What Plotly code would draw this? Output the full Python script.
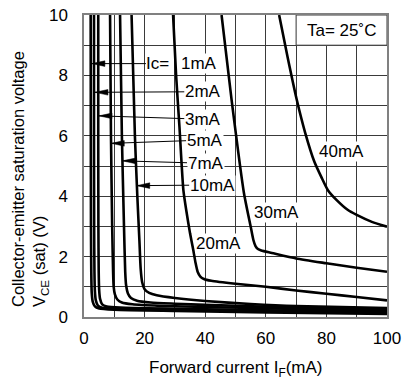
import plotly.graph_objects as go

# ---------------- data ----------------
ic_names = ["1mA", "2mA", "3mA", "5mA", "7mA", "10mA", "20mA", "30mA", "40mA"]

if_1mA = [2.2, 2.25, 2.3, 2.4, 2.55, 2.9, 3.6, 5.0, 10, 30, 60, 100]
v_1mA = [10, 6, 3, 1.5, 0.8, 0.5, 0.35, 0.28, 0.24, 0.2, 0.15, 0.1]

if_2mA = [3.3, 3.3, 3.35, 3.45, 3.6, 3.9, 4.6, 6.0, 10, 30, 60, 100]
v_2mA = [10, 6, 3, 1.5, 0.85, 0.55, 0.38, 0.31, 0.28, 0.24, 0.19, 0.14]

if_3mA = [4.7, 4.7, 4.75, 4.85, 5.0, 5.3, 6.0, 7.5, 12, 30, 60, 100]
v_3mA = [10, 6, 3, 1.5, 0.9, 0.6, 0.42, 0.35, 0.31, 0.27, 0.22, 0.17]

if_5mA = [8.6, 8.9, 9.3, 9.6, 9.8, 10.2, 11.0, 12.5, 16, 25, 40, 70, 100]
v_5mA = [10, 6, 3, 1.5, 1.0, 0.75, 0.58, 0.48, 0.42, 0.37, 0.33, 0.27, 0.22]

if_7mA = [11.9, 12.5, 13.2, 13.6, 13.9, 14.5, 15.5, 17.5, 22, 30, 40, 70, 100]
v_7mA = [10, 6, 3, 1.5, 1.05, 0.78, 0.63, 0.54, 0.48, 0.44, 0.4, 0.32, 0.26]

if_10mA = [15.7, 16.8, 17.6, 18.3, 18.7, 19.2, 20, 21.5, 24, 30, 40, 55, 70, 100]
v_10mA = [10, 6, 4, 2.5, 1.6, 1.15, 0.92, 0.8, 0.72, 0.63, 0.53, 0.43, 0.36, 0.3]

if_20mA = [29.4, 30.4, 31.5, 32.8, 33.8, 35, 36.1, 36.8, 37.5, 38.4, 39.6, 42, 50, 60, 70, 80, 90, 100]
v_20mA = [10, 8, 6.3, 4.2, 3.5, 2.77, 2.2, 1.8, 1.5, 1.34, 1.26, 1.2, 1.1, 1.0, 0.88, 0.77, 0.66, 0.55]

if_30mA = [45.4, 48.7, 52.8, 55.0, 55.9, 56.6, 57.4, 58.5, 62, 70, 80, 90, 100]
v_30mA = [10, 7.2, 4.1, 3.0, 2.55, 2.35, 2.25, 2.2, 2.12, 1.94, 1.78, 1.63, 1.5]

if_40mA = [64.4, 67.2, 70.2, 73, 76, 78.5, 80.5, 83.4, 87, 90, 95, 100]
v_40mA = [10, 8.6, 7.2, 6.1, 5.15, 4.6, 4.2, 3.87, 3.55, 3.38, 3.15, 2.99]

curves_if = [if_1mA, if_2mA, if_3mA, if_5mA, if_7mA, if_10mA, if_20mA, if_30mA, if_40mA]
curves_v = [v_1mA, v_2mA, v_3mA, v_5mA, v_7mA, v_10mA, v_20mA, v_30mA, v_40mA]

# arrow labels: text, label centre, arrow tip (on the curve)
arrow_text = ["Ic=", "2mA", "3mA", "5mA", "7mA", "10mA"]
arrow_label_x = [24.4, 39.2, 39.2, 39.8, 40.1, 42.3]
arrow_label_y = [8.39, 7.46, 6.55, 5.86, 5.09, 4.37]
arrow_tip_x = [2.6, 3.6, 4.95, 9.0, 12.7, 17.4]
arrow_tip_y = [8.39, 7.44, 6.66, 5.75, 5.17, 4.35]

# free labels
free_text = ["1mA", "20mA", "30mA", "40mA"]
free_x = [38.0, 44.3, 63.6, 84.9]
free_y = [8.39, 2.44, 3.45, 5.47]

x_tick_vals = [0, 10, 20, 30, 40, 50, 60, 70, 80, 90, 100]
x_tick_text = ["0", "", "20", "", "40", "", "60", "", "80", "", "100"]
y_tick_vals = [0, 1, 2, 3, 4, 5, 6, 7, 8, 9, 10]
y_tick_text = ["0", "", "2", "", "4", "", "6", "", "8", "", "10"]

# ---------------- styling ----------------
FONT = "Liberation Sans, Arial, sans-serif"
FS = 17
GRID = "#3a3a3a"
FRAME = "#808080"

fig = go.Figure()
for name, xs, ys in zip(ic_names, curves_if, curves_v):
    fig.add_trace(go.Scatter(
        x=xs, y=ys, mode="lines", name=name,
        line=dict(color="black", width=2.6, shape="spline", smoothing=0.6),
        showlegend=False, hoverinfo="skip"))

annotations = []
shapes = []

# Ta box
shapes.append(dict(type="rect", xref="x", yref="y", x0=70, x1=100, y0=9, y1=10,
                   fillcolor="white", line=dict(color=GRID, width=1), layer="above"))
annotations.append(dict(x=85, y=9.5, xref="x", yref="y", text="Ta= 25˚C",
                        showarrow=False, font=dict(family=FONT, size=FS, color="black")))

# leader-line labels
px_per_x = 303 / 100.0
px_per_y = 302 / 10.0
head_len = 13 / px_per_x
head_half = 2.8 / px_per_y
for t, lx, ly, tx, ty in zip(arrow_text, arrow_label_x, arrow_label_y, arrow_tip_x, arrow_tip_y):
    annotations.append(dict(
        x=tx, y=ty, ax=lx, ay=ly, xref="x", yref="y", axref="x", ayref="y",
        text=t, showarrow=True, arrowhead=0, arrowwidth=1, arrowcolor="black",
        standoff=0, bgcolor="white", borderpad=0,
        font=dict(family=FONT, size=FS, color="black")))
    shapes.append(dict(
        type="path", xref="x", yref="y", layer="above",
        path=f"M {tx},{ty} L {tx + head_len},{ty + head_half} L {tx + head_len},{ty - head_half} Z",
        fillcolor="black", line=dict(color="black", width=0.5)))

for t, fx, fy in zip(free_text, free_x, free_y):
    annotations.append(dict(x=fx, y=fy, xref="x", yref="y", text=t, showarrow=False,
                            bgcolor="white", borderpad=0,
                            font=dict(family=FONT, size=FS, color="black")))

# axis titles
annotations.append(dict(
    x=(30 - 84) / 303, y=(317 - 309) / 302, xref="paper", yref="paper",
    xanchor="center", yanchor="bottom", textangle=-90, align="left",
    text="Collector-emitter saturation voltage<br>V<sub>CE</sub> (sat) (V)",
    showarrow=False, font=dict(family=FONT, size=16.5, color="black")))
annotations.append(dict(
    x=0.5, y=(317 - 369) / 302, xref="paper", yref="paper",
    xanchor="center", yanchor="middle",
    text="Forward current I<sub>F</sub>(mA)",
    showarrow=False, font=dict(family=FONT, size=FS, color="black")))

fig.update_layout(
    width=403, height=381,
    margin=dict(l=84, r=16, t=15, b=64, autoexpand=False),
    paper_bgcolor="white", plot_bgcolor="white",
    font=dict(family=FONT, size=FS, color="black"),
    annotations=annotations, shapes=shapes,
    xaxis=dict(range=[0, 100], tickvals=x_tick_vals, ticktext=x_tick_text,
               showgrid=True, gridcolor=GRID, gridwidth=1, zeroline=False,
               showline=True, linecolor=FRAME, linewidth=1.5, mirror=True,
               ticks="outside", ticklen=5, tickcolor="rgba(0,0,0,0)",
               automargin=False,
               tickfont=dict(family=FONT, size=FS, color="black")),
    yaxis=dict(range=[0, 10], tickvals=y_tick_vals, ticktext=y_tick_text,
               showgrid=True, gridcolor=GRID, gridwidth=1, zeroline=False,
               showline=True, linecolor=FRAME, linewidth=1.5, mirror=True,
               ticks="outside", ticklen=11, tickcolor="rgba(0,0,0,0)",
               automargin=False,
               tickfont=dict(family=FONT, size=FS, color="black")),
)

fig.write_html(
    "out.html",
    config={"displayModeBar": False},
    post_script="document.body.style.margin='0';document.body.style.overflow='hidden';",
)
